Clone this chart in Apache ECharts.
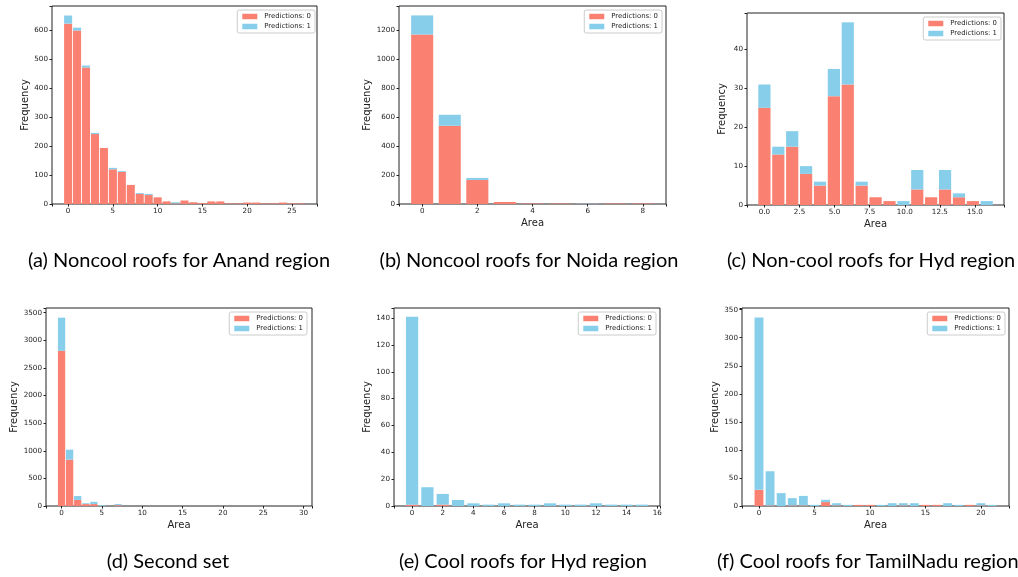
<!DOCTYPE html>
<html>
<head>
<meta charset="utf-8">
<script src="https://cdn.jsdelivr.net/npm/echarts@6/dist/echarts.min.js"></script>
<style>
  html, body { margin: 0; padding: 0; background: #fff; }
  #container { width: 1018px; height: 577px; }
</style>
</head>
<body>
<div id="container"></div>
<script>
// (a) Noncool roofs for Anand region
var anandX = [0, 1, 2, 3, 4, 5, 6, 7, 8, 9, 10, 11, 12, 13, 14, 15, 16, 17, 18, 19, 20, 21, 22, 23, 24, 25, 26];
var anandPred0 = [624, 600, 472, 242, 194, 120, 111, 66, 35, 31, 23, 9, 2, 12, 6, 3, 9, 9, 2, 2, 5, 5, 2, 2, 5, 2, 2];
var anandPred1 = [28, 10, 7, 4, 0, 5, 3, 0, 3, 4, 0, 0, 4, 0, 0, 0, 0, 0, 0, 0, 0, 0, 0, 0, 0, 0, 0];

// (b) Noncool roofs for Noida region
var noidaX = [0, 1, 2, 3, 4, 5, 6, 7, 8];
var noidaPred0 = [1170, 540, 166, 14, 3, 3, 1, 3, 3];
var noidaPred1 = [132, 76, 14, 0, 0, 0, 2, 0, 0];

// (c) Non-cool roofs for Hyd region
var hydX = [0, 0.99, 1.98, 2.97, 3.96, 4.95, 5.94, 6.93, 7.92, 8.91, 9.9, 10.89, 11.88, 12.87, 13.86, 14.85, 15.84];
var hydPred0 = [25, 13, 15, 8, 5, 28, 31, 5, 2, 1, 0, 4, 2, 4, 2, 1, 0];
var hydPred1 = [6, 2, 4, 2, 1, 7, 16, 1, 0, 0, 1, 5, 0, 5, 1, 0, 1];

// (d) Second set
var secondX = [0, 1, 2, 3, 4, 5, 6, 7];
var secondPred0 = [2810, 840, 110, 35, 35, 3, 0, 15];
var secondPred1 = [600, 180, 70, 15, 40, 15, 0, 20];

// (e) Cool roofs for Hyd region
var coolHydX = [0, 1, 2, 3, 4, 5, 6, 7, 8, 9, 10, 11, 12, 13, 14, 15];
var coolHydPred0 = [1, 0, 1, 0, 0, 0, 0, 0, 0, 0, 0, 0, 0, 0, 0, 0];
var coolHydPred1 = [140, 14, 8, 4.5, 2, 1, 2, 1, 1, 2, 1, 1, 2, 1, 1, 1];

// (f) Cool roofs for TamilNadu region
var tnX = [0, 1, 2, 3, 4, 5, 6, 7, 8, 9, 10, 11, 12, 13, 14, 15, 16, 17, 18, 19, 20, 21];
var tnPred0 = [29, 1, 0, 1, 1, 0, 7, 1, 0, 2, 2, 0, 0, 1, 0, 2, 2, 0, 0, 2, 1, 0];
var tnPred1 = [307, 61, 23, 13, 17, 2, 4, 4, 2, 0, 0, 2, 5, 4, 5, 0, 0, 5, 2, 0, 4, 2];

var captions = [
  "(a) Noncool roofs for Anand region",
  "(b) Noncool roofs for Noida region",
  "(c) Non-cool roofs for Hyd region",
  "(d) Second set",
  "(e) Cool roofs for Hyd region",
  "(f) Cool roofs for TamilNadu region"
];

var SALMON = "#FA8072";
var SKY = "#87CEEB";
var INK = "#222";

// layout of each panel (pixels) + axis settings
var panels = [
  { x: anandX, p0: anandPred0, p1: anandPred1, bw: 0.9, grid: [52, 6, 265, 198], xr: [-1.8, 27.8], yr: [0, 685], xi: 5, yi: 100, area: false, leg: [703, 10], cap: [179, 261, "center"] },
  { x: noidaX, p0: noidaPred0, p1: noidaPred1, bw: 0.8, grid: [399, 6, 267, 198], xr: [-0.84, 8.84], yr: [0, 1367], xi: 2, yi: 200, area: true, leg: [356, 10], cap: [529, 261, "center"] },
  { x: hydX, p0: hydPred0, p1: hydPred1, bw: 0.87, grid: [747, 13, 257, 192], xr: [-1.24, 17.07], yr: [0, 49.4], xi: 2.5, yi: 10, area: true, leg: [17, 17], cap: [871, 261, "center"], dec: 1 },
  { x: secondX, p0: secondPred0, p1: secondPred1, bw: 0.9, grid: [46, 308, 266, 198], xr: [-1.93, 31.04], yr: [0, 3585], xi: 5, yi: 500, area: true, leg: [711, 312], cap: [168, 562, "center"] },
  { x: coolHydX, p0: coolHydPred0, p1: coolHydPred1, bw: 0.8, grid: [394, 308, 266, 198], xr: [-1.18, 16.18], yr: [0, 147.5], xi: 2, yi: 20, area: true, leg: [362, 312], cap: [523, 562, "center"] },
  { x: tnX, p0: tnPred0, p1: tnPred1, bw: 0.8, grid: [742, 308, 267, 198], xr: [-1.53, 22.53], yr: [0, 353], xi: 5, yi: 50, area: true, leg: [13, 312], cap: [717, 562, "left"] }
];

function tickFmt(step, dec) {
  return function (v) {
    var k = v / step;
    if (Math.abs(k - Math.round(k)) > 1e-6) return "";
    return dec ? v.toFixed(dec) : String(Math.round(v));
  };
}

function barRender(w) {
  return function (params, api) {
    var x = api.value(0), lo = api.value(1), hi = api.value(2);
    if (hi - lo <= 0) return null;
    var a = api.coord([x - w / 2, hi]);
    var b = api.coord([x + w / 2, lo]);
    return {
      type: "rect",
      shape: { x: a[0], y: a[1], width: b[0] - a[0], height: b[1] - a[1] },
      style: { fill: api.visual("color") }
    };
  };
}

var grids = [], xAxes = [], yAxes = [], series = [], legends = [], graphics = [];

panels.forEach(function (p, i) {
  grids.push({
    left: p.grid[0], top: p.grid[1], width: p.grid[2], height: p.grid[3],
    show: true, borderColor: INK, borderWidth: 1, backgroundColor: "#fff"
  });
  xAxes.push({
    gridIndex: i, type: "value", min: p.xr[0], max: p.xr[1],
    minInterval: p.xi, maxInterval: p.xi,
    name: p.area ? "Area" : "", nameLocation: "middle", nameGap: 14,
    nameTextStyle: { fontFamily: "DejaVu Sans", fontSize: 10, color: INK },
    axisLine: { show: false, onZero: false },
    axisTick: { show: true, inside: false, length: 2.5, lineStyle: { color: INK } },
    axisLabel: { formatter: tickFmt(p.xi, p.dec), margin: 4, fontFamily: "DejaVu Sans", fontSize: 7.2, color: INK },
    splitLine: { show: false }
  });
  yAxes.push({
    gridIndex: i, type: "value", min: p.yr[0], max: p.yr[1],
    minInterval: p.yi, maxInterval: p.yi,
    name: "Frequency", nameLocation: "middle", nameRotate: 90, nameGap: i === 3 ? 26 : (i === 1 ? 24 : 20),
    nameTextStyle: { fontFamily: "DejaVu Sans", fontSize: 10, color: INK },
    axisLine: { show: false, onZero: false },
    axisTick: { show: true, inside: false, length: 2.5, lineStyle: { color: INK } },
    axisLabel: { formatter: tickFmt(p.yi, 0), margin: 4, fontFamily: "DejaVu Sans", fontSize: 7.2, color: INK },
    splitLine: { show: false }
  });

  var d0 = [], d1 = [];
  for (var k = 0; k < p.x.length; k++) {
    d0.push([p.x[k], 0, p.p0[k]]);
    d1.push([p.x[k], p.p0[k], p.p0[k] + p.p1[k]]);
  }
  series.push({
    name: "Predictions: 0", type: "custom", xAxisIndex: i, yAxisIndex: i,
    renderItem: barRender(p.bw), itemStyle: { color: SALMON },
    encode: { x: [0], y: [1, 2] }, data: d0, silent: true
  });
  series.push({
    name: "Predictions: 1", type: "custom", xAxisIndex: i, yAxisIndex: i,
    renderItem: barRender(p.bw), itemStyle: { color: SKY },
    encode: { x: [0], y: [1, 2] }, data: d1, silent: true
  });

  legends.push({
    right: p.leg[0], top: p.leg[1], orient: "vertical",
    data: [{ name: "Predictions: 0", icon: "rect" }, { name: "Predictions: 1", icon: "rect" }],
    itemWidth: 15, itemHeight: 5.5, itemGap: 3,
    padding: [3, 4, 3, 5], borderColor: "#ccc", borderWidth: 1, borderRadius: 2,
    backgroundColor: "rgba(255,255,255,0.8)",
    textStyle: { fontFamily: "DejaVu Sans", fontSize: 6.9, color: INK, padding: [0, 0, 0, 2] },
    selectedMode: false
  });

  graphics.push({
    type: "text",
    x: p.cap[0], y: p.cap[1],
    style: {
      text: captions[i], fontFamily: "Lato", fontSize: 20, fill: "#000",
      textAlign: p.cap[2], textVerticalAlign: "middle"
    }
  });
});

var chart = echarts.init(document.getElementById("container"), null, { renderer: "canvas" });
chart.setOption({
  animation: false,
  backgroundColor: "#fff",
  grid: grids,
  xAxis: xAxes,
  yAxis: yAxes,
  legend: legends,
  series: series,
  graphic: graphics
});
</script>
</body>
</html>
